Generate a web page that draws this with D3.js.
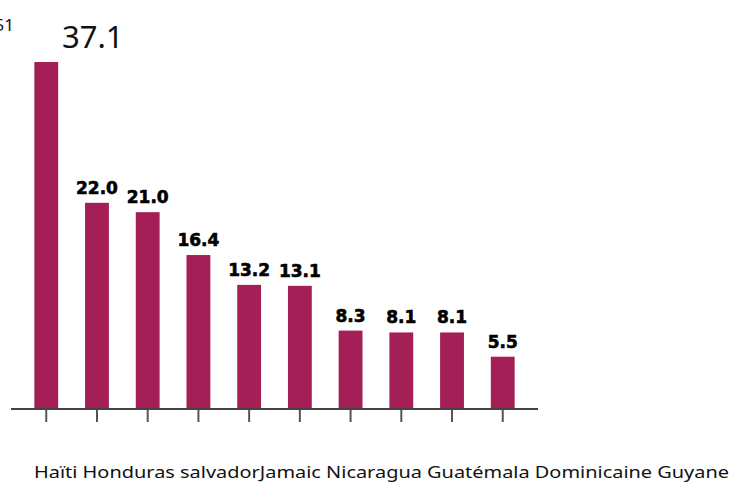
<!DOCTYPE html>
<html>
<head>
<meta charset="utf-8">
<script src="https://cdn.jsdelivr.net/npm/d3@7"></script>
<style>
  body { margin: 0; background: #fff; }
  svg { display: block; }
</style>
</head>
<body>
<div></div>
<script>
var width = 732, height = 487;

// values
var categories = ["Haïti", "Honduras", "Salvador", "Jamaïque", "Nicaragua", "Guatémala", "Dominicaine", "Guyane", "Bolivie", "Belize"];
var values = [37.1, 22.0, 21.0, 16.4, 13.2, 13.1, 8.3, 8.1, 8.1, 5.5];
// labels as printed under the axis (some were clipped in the original)
var xLabels = ["Haïti ", "Honduras ", "salvador", "Jamaic ", "Nicaragua ", "Guatémala ", "Dominicaine ", "Guyane"];
var cornerLabel = "51";

var svg = d3.select("div").append("svg")
    .attr("width", width)
    .attr("height", height);

var x = d3.scaleBand()
    .domain(categories)
    .range([11, 538])
    .paddingInner(0.53)
    .paddingOuter(0.46);

var y = d3.scaleLinear()
    .domain([0, 37.1])
    .range([408, 62]);

svg.append("g")
    .attr("class", "bars")
  .selectAll("rect")
    .data(values)
  .enter().append("rect")
    .attr("x", function(d, i) { return x(categories[i]); })
    .attr("y", function(d) { return y(d); })
    .attr("width", x.bandwidth())
    .attr("height", function(d) { return y(0) - y(d); })
    .style("fill", "#a31f56");

// axis line + ticks, no tick text
var axis = svg.append("g")
    .attr("transform", "translate(0,409)")
    .call(d3.axisBottom(x).tickSize(13).tickFormat(""));
axis.select(".domain")
    .attr("d", "M11,0H538")
    .style("stroke", "#444")
    .style("stroke-width", 2);
axis.selectAll(".tick line")
    .attr("y1", 1)
    .style("stroke", "#555")
    .style("stroke-width", 2);

// value labels (first one is drawn differently in the original)
svg.append("g")
  .selectAll("text")
    .data(values.slice(1))
  .enter().append("text")
    .attr("x", function(d, i) { return x(categories[i + 1]) + x.bandwidth() / 2; })
    .attr("y", function(d) { return y(d) - 9; })
    .attr("text-anchor", "middle")
    .style("font-family", "'DejaVu Sans', sans-serif")
    .style("font-weight", "bold")
    .style("font-size", "17px")
    .style("fill", "#000")
    .style("stroke", "#000")
    .style("stroke-width", 0.6)
    .text(function(d) { return d3.format(".1f")(d); });

svg.append("text")
    .attr("x", 62)
    .attr("y", 48)
    .style("font-family", "'Noto Sans', sans-serif")
    .style("font-size", "31px")
    .style("fill", "#111")
    .text(d3.format(".1f")(values[0]));

svg.append("text")
    .attr("x", 14)
    .attr("y", 31)
    .attr("text-anchor", "end")
    .style("font-family", "'Noto Sans', sans-serif")
    .style("font-size", "17px")
    .style("fill", "#111")
    .text(cornerLabel);

var xl = svg.append("text")
    .attr("x", 34)
    .attr("y", 478)
    .attr("xml:space", "preserve")
    .style("white-space", "pre")
    .style("font-family", "'Noto Sans', sans-serif")
    .style("font-size", "17px")
    .style("fill", "#111");
xl.selectAll("tspan")
    .data(xLabels)
  .enter().append("tspan")
    .text(function(d) { return d; });
// stretch the row to the width it takes in the original
xl.attr("textLength", 695).attr("lengthAdjust", "spacingAndGlyphs");
</script>
</body>
</html>
